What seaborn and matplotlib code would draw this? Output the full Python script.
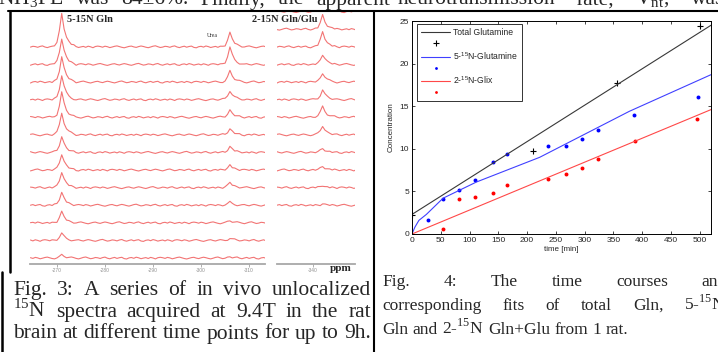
import numpy as np
import pandas as pd
import matplotlib
matplotlib.use("Agg")
import matplotlib.pyplot as plt
import seaborn as sns
from matplotlib.lines import Line2D

total_t = [0, 210, 356, 501]
total_c = [2.2, 9.8, 17.7, 24.4]
n5_t = [27, 54, 81, 110, 140, 166, 237, 268, 296, 323, 386, 497]
n5_c = [1.6, 4.1, 5.2, 6.3, 8.4, 9.4, 10.3, 10.3, 11.1, 12.2, 14.0, 16.1]
n2_t = [54, 81, 110, 140, 166, 237, 268, 296, 323, 387, 496]
n2_c = [0.55, 4.1, 4.3, 4.85, 5.7, 6.4, 7.0, 7.8, 8.8, 10.9, 13.5]

# ---- Fig. 4: fitted curves ----
fit_total_t = [0, 520]
fit_total_c = [2.3, 24.5]
fit_n5_t = [0, 5, 12, 25, 54, 112, 222, 378, 520]
fit_n5_c = [0, 0.8, 1.6, 2.3, 4.2, 6.1, 9.0, 14.4, 18.7]
fit_n2_t = [0, 520]
fit_n2_c = [0, 14.6]

legend_labels = ["Total Glutamine", "5-$^{\\mathsf{15}}$N-Glutamine", "2-$^{\\mathsf{15}}$N-Glix"]
x_ticks = [0, 50, 100, 150, 200, 250, 300, 350, 400, 450, 500]
y_ticks = [0, 5, 10, 15, 20, 25]

# ---- Fig. 3: peak heights per spectrum, first scan (bottom) -> last (top) ----
gln5_peak = [3, 7, 11, 13, 16, 16, 16, 22, 25, 24, 25, 26, 34]
urea_peak = [1, 2, 2, 3, 5, 5, 6, 6, 7, 9, 11, 17, 14]
gln2_peak = [1, 2, 4, 4, 9, 11, 10, 9, 10, 15, 14, 17, 22]
gln5_ppm, urea_ppm, gln2_ppm = -270.8, -305.8, -341.9
peak_shape = [0.04, 0.12, 0.45, 1.0, 0.55, 0.28, 0.15, 0.08, 0.04]
wiggle = [0.3, -0.4, 0.6, 0.1, -0.8, -0.2, 0.5, 0.9, 0.2, -0.5, -1.0, -0.3, 0.4, 0.7,
          -0.1, -0.6, 0.2, 0.8, 0.3, -0.4, -0.9, -0.2, 0.6, 1.0, 0.1, -0.7, -0.3, 0.5,
          0.2, -0.5, 0.4, 0.9, -0.2, -0.8, 0.0, 0.6, -0.4, 0.3, 0.7, -0.6, -1.0, 0.1,
          0.5, -0.3, 0.8, 0.2, -0.7, -0.1, 0.4, -0.5, 0.6, 0.0, -0.9, 0.3, 0.7]
ppm_left = np.arange(-264.5, -313.6, -0.5)
ppm_right = np.arange(-332.5, -349.1, -0.5)
ppm_ticks_left = [-270, -280, -290, -300, -310]
ppm_ticks_right = [-340]

sns.set_style("ticks")
plt.rcParams["font.family"] = ["Liberation Sans", "DejaVu Sans"]
plt.rcParams["mathtext.fontset"] = "custom"
plt.rcParams["mathtext.rm"] = "Liberation Serif"
plt.rcParams["mathtext.sf"] = "Liberation Sans"

W, H = 718, 352
fig = plt.figure(figsize=(W / 100, H / 100), dpi=100)


def rect(x0, y0, x1, y1):
    return [x0 / W, 1 - y1 / H, (x1 - x0) / W, (y1 - y0) / H]


bg = fig.add_axes([0, 0, 1, 1])
bg.set_xlim(0, W)
bg.set_ylim(H, 0)
bg.axis("off")
renderer = fig.canvas.get_renderer()


def put_line(words, x0, x1, y, size, justify=True):
    texts = [bg.text(x0, y, w, fontsize=size, va="baseline", ha="left",
                     family="Liberation Serif") for w in words]
    widths = [t.get_window_extent(renderer).width for t in texts]
    gap = (x1 - x0 - sum(widths)) / (len(words) - 1) if justify else size * 0.25 * 100 / 72
    x = x0
    for t, w in zip(texts, widths):
        t.set_x(x)
        x += w + gap


# page frame lines
bg.plot([8, W], [11, 11], color="k", lw=1.5)
bg.plot([9.5, 9.5], [11, 272], color="k", lw=1.8)
bg.plot([1.5, 1.5], [272, H], color="k", lw=1.8)
bg.plot([373.5, 373.5], [11, H], color="k", lw=1.5)

# running text cut at the top
put_line(["NH$_3$FE", "was", "84±6%.", "Finally,", "the", "apparent"], -2, 390, 4.5, 15.5)
put_line(["neurotransmission", "rate,", "V$_{\\mathrm{nt}}$,", "was"], 398, 724, 4.5, 15.5)

# captions
put_line("Fig. 3: A series of in vivo unlocalized".split(), 13, 371, 295, 15.5)
put_line(["$^{15}$N", "spectra", "acquired", "at", "9.4T", "in", "the", "rat"], 13, 371, 317, 15.5)
put_line("brain at different time points for up to 9h.".split(), 13, 371, 338.5, 15.5)
put_line("Fig. 4: The time courses and".split(), 382, 727, 286.5, 12.5)
put_line(["corresponding", "fits", "of", "total", "Gln,", "5-$^{15}$N"], 382, 726, 310, 12.5)
put_line(["Gln", "and", "2-$^{15}$N", "Gln+Glu", "from", "1", "rat."], 382, 0, 333.5, 12.5,
         justify=False)

# ---- Fig. 3: stacked spectra ----
step = 17.6


def spectrum(ppm, row, peaks):
    y = np.resize(np.roll(wiggle, row * 7), len(ppm)).astype(float)
    for pos, h in peaks:
        c = int(np.argmin(np.abs(ppm - pos)))
        for k, s in enumerate(peak_shape):
            j = c + k - 3
            if 0 <= j < len(ppm):
                y[j] += h * s
    return y + row * step


rows_l, rows_r = [], []
for i in range(len(gln5_peak)):
    rows_l.append(pd.DataFrame({"ppm": ppm_left, "row": i,
                                "signal": spectrum(ppm_left, i, [(gln5_ppm, gln5_peak[i]),
                                                                 (urea_ppm, urea_peak[i])])}))
    rows_r.append(pd.DataFrame({"ppm": ppm_right, "row": i,
                                "signal": spectrum(ppm_right, i + 3, [(gln2_ppm, gln2_peak[i])])}))

spec_color = "#f27474"
for df, box, lim, ticks in [(pd.concat(rows_l), (30, 12, 265, 264), (-264.4, -313.3), ppm_ticks_left),
                            (pd.concat(rows_r), (277, 12, 355, 264), (-332.5, -348.75), ppm_ticks_right)]:
    ax_s = fig.add_axes(rect(*box))
    sns.lineplot(data=df, x="ppm", y="signal", units="row", estimator=None, sort=False,
                 color=spec_color, lw=0.8, ax=ax_s, legend=False)
    ax_s.set_xlim(*lim)
    ax_s.set_ylim(-6, 246)
    ax_s.set_xticks(ticks)
    ax_s.set_xticklabels([str(t) for t in ticks])
    ax_s.set_yticks([])
    ax_s.set_xlabel("")
    ax_s.set_ylabel("")
    ax_s.patch.set_alpha(0)
    for side in ["top", "left", "right"]:
        ax_s.spines[side].set_visible(False)
    ax_s.spines["bottom"].set_color("#a8a8a8")
    ax_s.spines["bottom"].set_linewidth(1.3)
    ax_s.tick_params(axis="x", length=2, width=0.5, colors="#909090", labelsize=3.5, pad=1)

bg.text(67, 22, "5-15N Gln", fontsize=7.5, fontweight="bold", family="Liberation Serif")
bg.text(252, 22.5, "2-15N Gln/Glu", fontsize=7.5, fontweight="bold", family="Liberation Serif")
bg.text(207, 37, "Urea", fontsize=4, family="Liberation Serif")
bg.text(330, 271, "ppm", fontsize=8, fontweight="bold", family="Liberation Serif")

# ---- Fig. 4: time courses ----
ax = fig.add_axes(rect(412, 21, 711, 234))
c_tot, c_n5, c_n2 = "#383838", "#4040ff", "#ff4848"
sns.lineplot(x=fit_total_t, y=fit_total_c, color=c_tot, lw=0.8, ax=ax)
sns.lineplot(x=fit_n5_t, y=fit_n5_c, color=c_n5, lw=0.8, ax=ax)
sns.lineplot(x=fit_n2_t, y=fit_n2_c, color=c_n2, lw=0.8, ax=ax)
sns.scatterplot(x=total_t, y=total_c, marker="+", color="k", s=22, linewidth=0.8, ax=ax)
sns.scatterplot(x=n5_t, y=n5_c, marker="o", color="b", s=8, linewidth=0, ax=ax)
sns.scatterplot(x=n2_t, y=n2_c, marker="o", color="r", s=8, linewidth=0, ax=ax)
ax.set_xlim(0, 520)
ax.set_ylim(0, 25)
ax.set_xticks(x_ticks)
ax.set_yticks(y_ticks)
ax.tick_params(direction="in", top=True, right=True, length=2.5, width=0.6, pad=2,
               labelsize=6)
for sp in ax.spines.values():
    sp.set_linewidth(0.7)
    sp.set_color("k")
ax.set_xlabel("time [min]", fontsize=5.8, labelpad=1.5)
ax.set_ylabel("Concentration", fontsize=5.8, labelpad=4)

handles = [Line2D([], [], color=c_tot, lw=0.8),
           Line2D([], [], ls="none", marker="+", color="k", ms=4, mew=0.8),
           Line2D([], [], color=c_n5, lw=0.8),
           Line2D([], [], ls="none", marker="o", color="b", ms=2, mew=0),
           Line2D([], [], color=c_n2, lw=0.8),
           Line2D([], [], ls="none", marker="o", color="r", ms=2, mew=0)]
labels = [legend_labels[0], " ", legend_labels[1], " ", legend_labels[2], " "]
leg = ax.legend(handles, labels, loc="upper left", bbox_to_anchor=(0.017, 0.986),
                borderaxespad=0, fontsize=6.2, handlelength=3.3, handletextpad=0.4,
                labelspacing=0.22, borderpad=0.5, fancybox=False, frameon=True)
leg.get_frame().set_edgecolor("k")
leg.get_frame().set_linewidth(0.7)

fig.savefig("out.png", dpi=100)
